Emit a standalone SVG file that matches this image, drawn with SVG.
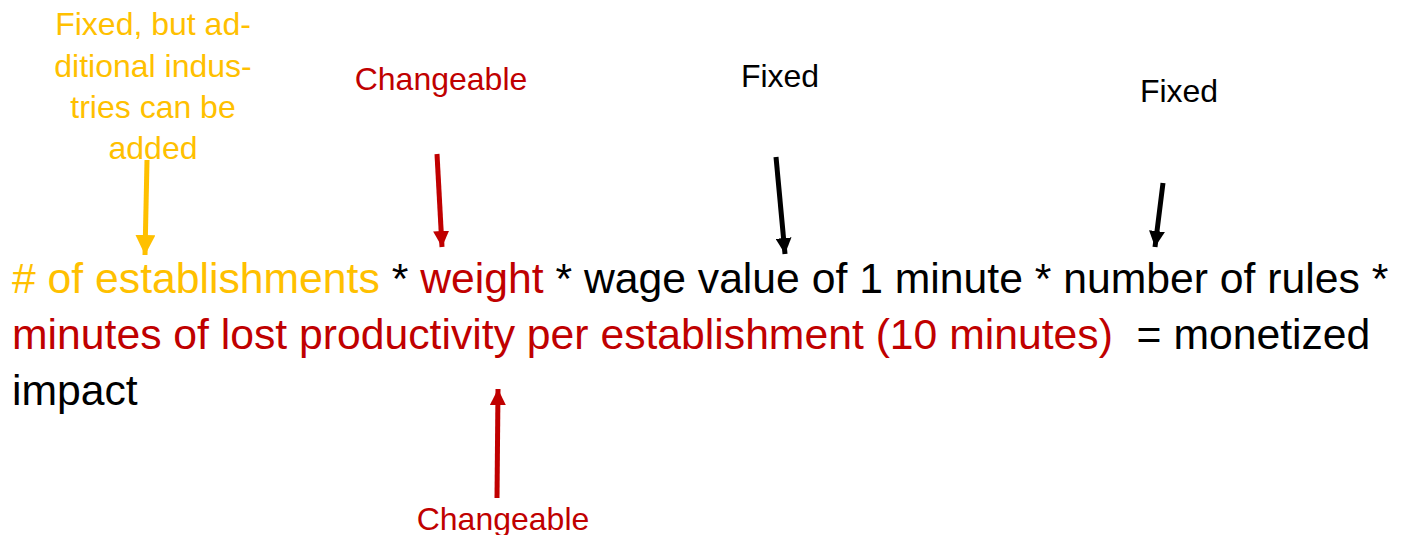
<svg xmlns="http://www.w3.org/2000/svg" width="1405" height="535" viewBox="0 0 1405 535">
<style>
text{font-family:"Liberation Sans",Arial,sans-serif;white-space:pre}
.lbl{font-size:32px;text-anchor:middle}
.main{font-size:42.7px}
.y{fill:#FFC000}
.r{fill:#C00000}
.k{fill:#000}
.sy{stroke:#FFC000;stroke-width:5;fill:none}
.sr{stroke:#C00000;stroke-width:5;fill:none}
.sk{stroke:#000;stroke-width:5;fill:none}
</style>
<defs>
<marker id="ay" viewBox="0 0 10 10" refX="10" refY="5" markerWidth="4" markerHeight="4" orient="auto" markerUnits="strokeWidth"><path d="M0,0 L10,5 L0,10 z" fill="#FFC000"/></marker>
<marker id="ar" viewBox="0 0 10 10" refX="10" refY="5" markerWidth="3.2" markerHeight="3.2" orient="auto" markerUnits="strokeWidth"><path d="M0,0 L10,5 L0,10 z" fill="#C00000"/></marker>
<marker id="ak" viewBox="0 0 10 10" refX="10" refY="5" markerWidth="3.2" markerHeight="3.2" orient="auto" markerUnits="strokeWidth"><path d="M0,0 L10,5 L0,10 z" fill="#000"/></marker>
</defs>
<g id="label-fixed-industries">
<text class="lbl y" x="153" y="35">Fixed, but ad-</text>
<text class="lbl y" x="153" y="77">ditional indus-</text>
<text class="lbl y" x="153" y="118">tries can be</text>
<text class="lbl y" x="153" y="159">added</text>
</g>
<g id="label-changeable-top"><text class="lbl r" x="441" y="90">Changeable</text></g>
<g id="label-fixed-1"><text class="lbl k" x="780" y="87">Fixed</text></g>
<g id="label-fixed-2"><text class="lbl k" x="1179" y="102">Fixed</text></g>
<g id="label-changeable-bottom"><text class="lbl r" x="503" y="530">Changeable</text></g>
<g id="formula">
<text class="main" x="12" y="293"><tspan class="y"># of establishments</tspan><tspan class="k"> * </tspan><tspan class="r">weight</tspan><tspan class="k"> * wage value of 1 minute * number of rules *</tspan></text>
<text class="main" x="12" y="349"><tspan class="r">minutes of lost productivity per establishment (10 minutes)</tspan><tspan class="k">  = monetized</tspan></text>
<text class="main k" x="12" y="405">impact</text>
</g>
<g id="connectors">
<line class="sy" x1="147" y1="160" x2="145" y2="255" marker-end="url(#ay)"/>
<line class="sr" x1="437" y1="154" x2="442" y2="247" marker-end="url(#ar)"/>
<line class="sk" x1="776" y1="157" x2="785" y2="254" marker-end="url(#ak)"/>
<line class="sk" x1="1163" y1="183" x2="1155" y2="247" marker-end="url(#ak)"/>
<line class="sr" x1="497" y1="498" x2="498" y2="389" marker-end="url(#ar)"/>
</g>
</svg>
